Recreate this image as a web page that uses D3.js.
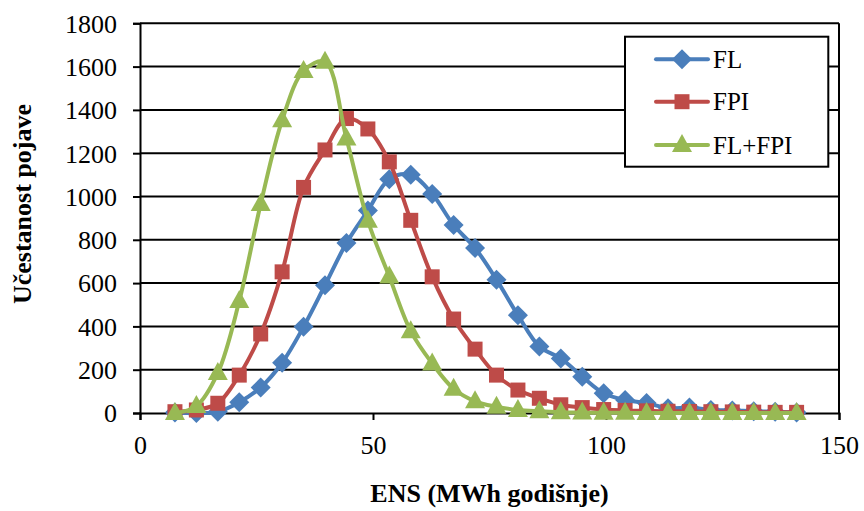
<!DOCTYPE html>
<html>
<head>
<meta charset="utf-8">
<script src="https://cdn.jsdelivr.net/npm/d3@7"></script>
<style>
  html, body { margin: 0; padding: 0; background: #fff; }
  svg { display: block; }
</style>
</head>
<body>
<svg id="chart" width="864" height="511"></svg>
<script>
// ENS distribution (MWh per year) for three protection variants
const ens = [7.5, 12.1, 16.7, 21.3, 25.9, 30.5, 35.1, 39.7, 44.3, 48.9, 53.5, 58.1, 62.7, 67.3, 71.9,
             76.5, 81.1, 85.7, 90.3, 94.9, 99.5, 104.1, 108.7, 113.3, 117.9, 122.5, 127.1, 131.7, 136.3, 140.9];
const fl    = [2, 0, 6, 50, 118, 232, 398, 590, 785, 935, 1080, 1100, 1012, 868, 762,
               616, 452, 307, 252, 168, 91, 60, 46, 22, 25, 14, 12, 8, 6, 2];
const fpi   = [6, 14, 45, 175, 365, 652, 1042, 1215, 1360, 1312, 1160, 890, 629, 434, 295,
               175, 106, 68, 38, 25, 16, 12, 10, 8, 7, 6, 5, 4, 3, 3];
const flFpi = [0, 32, 185, 517, 965, 1352, 1580, 1622, 1268, 888, 630, 378, 229, 112, 54,
               29, 14, 8, 4, 2, 1, 1, 0, 0, 0, 0, 0, 0, 0, 0];
const seriesNames = ["FL", "FPI", "FL+FPI"];
const xTicks = [0, 50, 100, 150];
const yTicks = [0, 200, 400, 600, 800, 1000, 1200, 1400, 1600, 1800];

const FONT = "'Liberation Serif'";

const series = [
  { name: seriesNames[0], values: fl,    color: "#4A7EBB", marker: "diamond" },
  { name: seriesNames[1], values: fpi,   color: "#BE4B48", marker: "square" },
  { name: seriesNames[2], values: flFpi, color: "#98B954", marker: "triangle" }
];

const svg = d3.select("#chart");
const plotLeft = 140, plotRight = 839, plotTop = 23.3, plotBottom = 413;

const x = d3.scaleLinear().domain([0, 150]).range([plotLeft, plotRight]);
const y = d3.scaleLinear().domain([0, 1800]).range([plotBottom, plotTop]);

// horizontal gridlines
svg.append("g")
  .selectAll("line")
  .data(yTicks.filter(d => d > 0))
  .join("line")
  .attr("x1", plotLeft).attr("x2", plotRight)
  .attr("y1", d => y(d)).attr("y2", d => y(d))
  .attr("stroke", "#000").attr("stroke-width", 2);

// right border of the plot area
svg.append("line")
  .attr("x1", plotRight).attr("x2", plotRight)
  .attr("y1", plotTop).attr("y2", plotBottom)
  .attr("stroke", "#000").attr("stroke-width", 2);

// axes
const yAxis = svg.append("g")
  .attr("transform", `translate(${plotLeft},0)`)
  .call(d3.axisLeft(y).tickValues(yTicks).tickSize(7).tickPadding(16).tickFormat(d3.format("d")));
const xAxis = svg.append("g")
  .attr("transform", `translate(0,${plotBottom})`)
  .call(d3.axisBottom(x).tickValues(xTicks).tickSize(7).tickPadding(14).tickFormat(d3.format("d")));

[yAxis, xAxis].forEach(g => {
  g.attr("font-family", null);
  g.select(".domain").attr("stroke", "#000").attr("stroke-width", 2);
  g.selectAll(".tick line").attr("stroke", "#000").attr("stroke-width", 2);
  g.selectAll(".tick text")
    .attr("fill", "#000")
    .style("font-family", FONT)
    .style("font-size", "26px");
});
yAxis.selectAll(".tick text").attr("dy", "0.34em");
xAxis.selectAll(".tick text").attr("dy", "0.75em");

// axis titles
svg.append("text")
  .attr("x", x(75)).attr("y", 502)
  .attr("text-anchor", "middle")
  .style("font-family", FONT)
  .style("font-size", "26px").style("font-weight", "bold")
  .text("ENS (MWh godišnje)");

svg.append("text")
  .attr("transform", "translate(31,204) rotate(-90)")
  .attr("text-anchor", "middle")
  .style("font-family", FONT)
  .style("font-size", "26px").style("font-weight", "bold")
  .text("Učestanost pojave");

// marker shapes
function markerPath(kind) {
  if (kind === "diamond") return "M0,-10L10,0L0,10L-10,0Z";
  if (kind === "square") return "M-7.5,-7.5H7.5V7.5H-7.5Z";
  return "M0,-11L10,7H-10Z";
}

const line = d3.line()
  .x((d, i) => x(ens[i]))
  .y(d => y(d))
  .curve(d3.curveCatmullRom.alpha(0.5));

series.forEach(s => {
  const g = svg.append("g");
  g.append("path")
    .attr("d", line(s.values))
    .attr("fill", "none")
    .attr("stroke", s.color)
    .attr("stroke-width", 4)
    .attr("stroke-linejoin", "round")
    .attr("stroke-linecap", "round");
  g.selectAll("path.m")
    .data(s.values)
    .join("path")
    .attr("class", "m")
    .attr("transform", (d, i) => `translate(${x(ens[i])},${y(d)})`)
    .attr("d", markerPath(s.marker))
    .attr("fill", s.color);
});

// legend
const lg = svg.append("g");
lg.append("rect")
  .attr("x", 625).attr("y", 36.7).attr("width", 203.3).attr("height", 130)
  .attr("fill", "#fff").attr("stroke", "#000").attr("stroke-width", 2);
const rowY = [59.3, 101.7, 145];
series.forEach((s, i) => {
  const r = lg.append("g").attr("transform", `translate(0,${rowY[i]})`);
  r.append("line")
    .attr("x1", 656).attr("x2", 708)
    .attr("stroke", s.color).attr("stroke-width", 4).attr("stroke-linecap", "round");
  r.append("path")
    .attr("transform", "translate(682,0)")
    .attr("d", markerPath(s.marker))
    .attr("fill", s.color);
  r.append("text")
    .attr("x", 713).attr("y", 0).attr("dy", "0.34em")
    .style("font-family", FONT)
    .style("font-size", "25px")
    .text(s.name);
});
</script>
</body>
</html>
